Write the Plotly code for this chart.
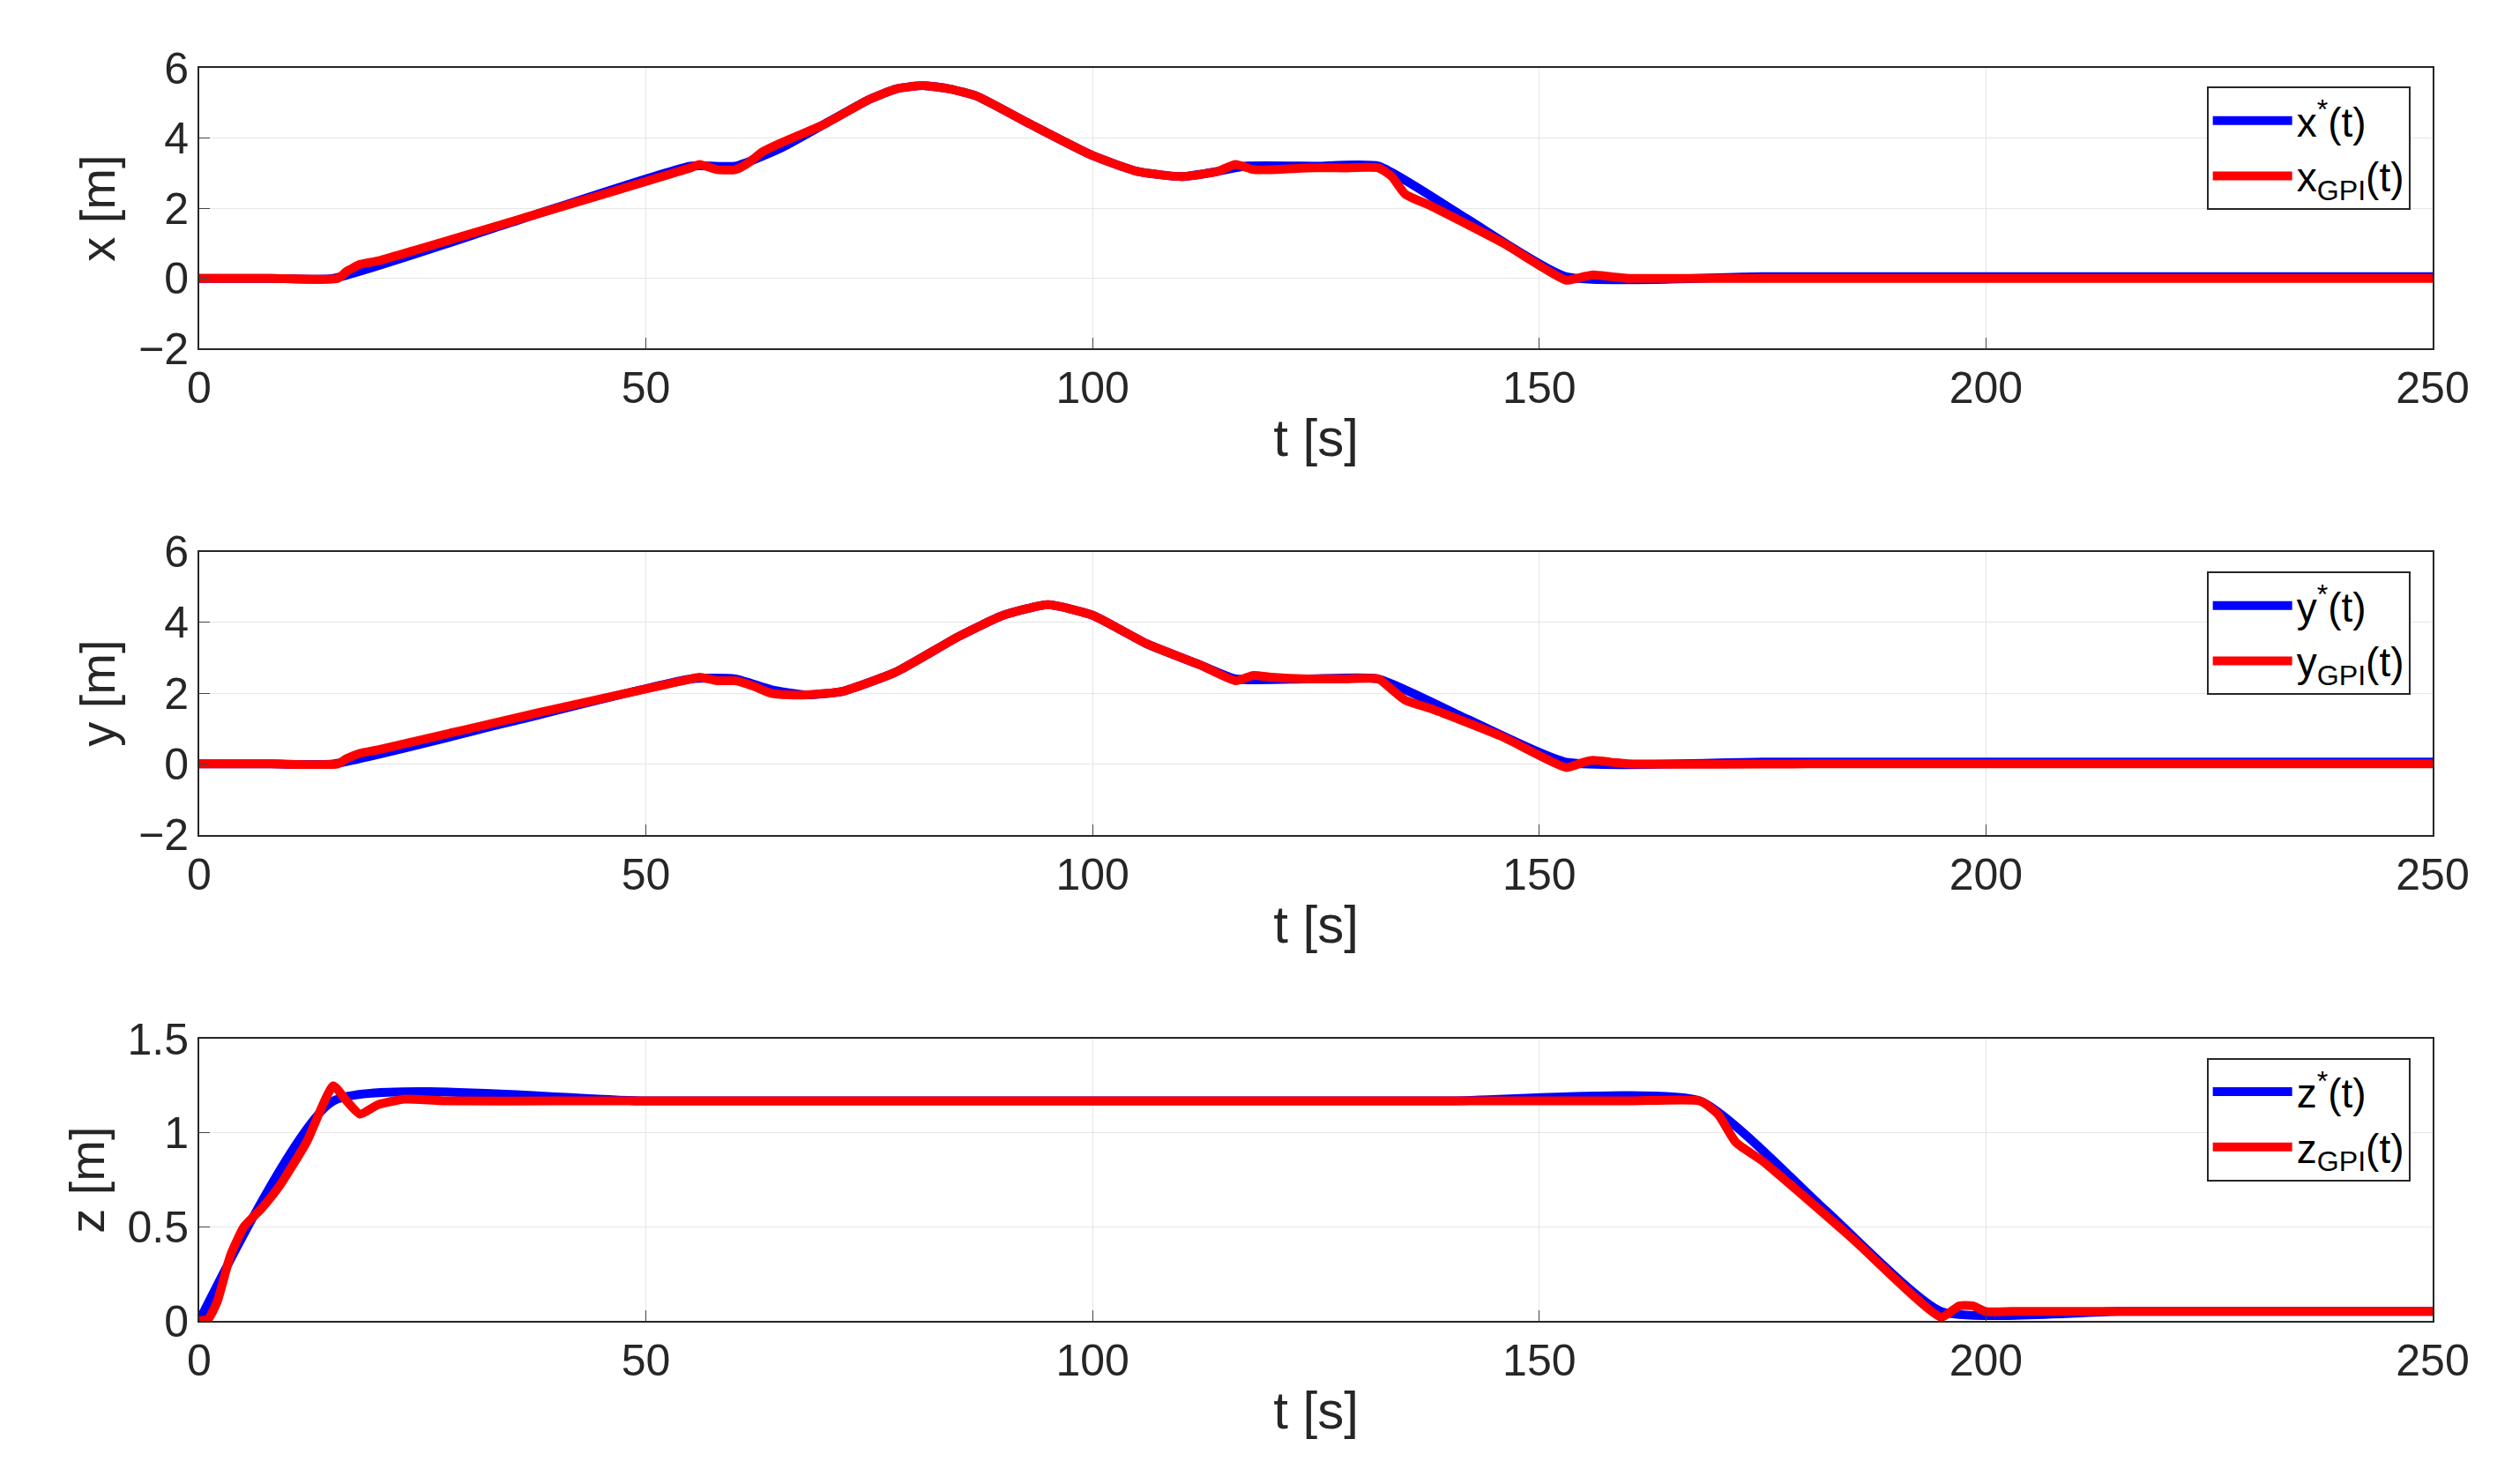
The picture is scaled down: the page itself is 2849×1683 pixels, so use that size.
import plotly.graph_objects as go
from plotly.subplots import make_subplots

# data
t_xr = [0, 8, 15, 35, 55, 60, 65, 70, 75, 78, 81, 84, 87, 93, 100, 105, 110, 114, 117, 125, 132, 142, 153, 175, 200, 225, 250]
x_ref = [0, 0, 0, 1.6, 3.2, 3.2, 3.7, 4.4, 5.1, 5.4, 5.5, 5.4, 5.2, 4.4, 3.5, 3.05, 2.9, 3.05, 3.2, 3.2, 3.2, 1.68, 0.05, 0.05, 0.05, 0.05, 0.05]
t_xg = [0, 8, 15.5, 16.5, 18, 20, 38, 55, 56, 58, 60, 61.5, 63, 65, 70, 75, 78, 81, 84, 87, 93, 100, 105, 110, 114, 116, 118, 120, 124, 128, 132, 133.5, 135, 138, 146, 153, 155, 156, 158, 160, 165, 180, 200, 225, 250]
x_gpi = [0, 0, 0, 0.2, 0.4, 0.5, 1.85, 3.15, 3.25, 3.1, 3.1, 3.3, 3.6, 3.85, 4.4, 5.1, 5.4, 5.5, 5.4, 5.2, 4.4, 3.5, 3.05, 2.9, 3.05, 3.25, 3.1, 3.1, 3.15, 3.15, 3.15, 2.9, 2.4, 2.05, 1.0, -0.05, 0.05, 0.1, 0.05, 0.0, 0.0, 0.0, 0.0, 0.0, 0.0]

t_yr = [0, 8, 15, 35, 55, 60, 64, 68, 72, 78, 85, 90, 95, 100, 106, 112, 116, 124, 132, 142, 153, 175, 200, 225, 250]
y_ref = [0, 0, 0, 1.2, 2.4, 2.4, 2.1, 1.95, 2.05, 2.6, 3.6, 4.2, 4.5, 4.2, 3.4, 2.8, 2.4, 2.4, 2.4, 1.26, 0.05, 0.05, 0.05, 0.05, 0.05]
t_yg = [0, 8, 15.5, 16.5, 18, 20, 38, 55, 56, 58, 60, 62, 64, 66, 68, 72, 78, 85, 90, 95, 100, 106, 112, 116, 118, 120, 124, 128, 132, 133.5, 135, 138, 146, 153, 155, 156, 158, 160, 180, 200, 225, 250]
y_gpi = [0, 0, 0, 0.15, 0.3, 0.4, 1.45, 2.4, 2.45, 2.35, 2.35, 2.2, 2.0, 1.95, 1.95, 2.05, 2.6, 3.6, 4.2, 4.5, 4.2, 3.4, 2.8, 2.35, 2.5, 2.45, 2.4, 2.4, 2.4, 2.1, 1.8, 1.55, 0.75, -0.1, 0.05, 0.1, 0.05, 0.0, 0.0, 0.0, 0.0, 0.0]

t_zr = [0, 15, 50, 100, 140, 168, 182, 195, 215, 235, 250]
z_ref = [0, 1.17, 1.17, 1.17, 1.17, 1.17, 0.59, 0.05, 0.05, 0.05, 0.05]
t_zg = [0, 1, 2, 3.5, 5, 7, 9, 12, 15, 16.5, 18, 20, 23, 28, 40, 60, 80, 100, 120, 140, 160, 168, 170, 172, 175, 185, 195, 197, 198.5, 200, 203, 215, 230, 250]
z_gpi = [0, 0.01, 0.1, 0.35, 0.5, 0.6, 0.72, 0.95, 1.25, 1.17, 1.1, 1.15, 1.18, 1.17, 1.17, 1.17, 1.17, 1.17, 1.17, 1.17, 1.17, 1.17, 1.1, 0.95, 0.85, 0.44, 0.02, 0.08, 0.08, 0.05, 0.05, 0.05, 0.05, 0.05]

fig = make_subplots(rows=3, cols=1)
BLUE, RED = "#0000ff", "#ff0000"
sets = [
    (t_xr, x_ref, t_xg, x_gpi, "x", "legend"),
    (t_yr, y_ref, t_yg, y_gpi, "y", "legend2"),
    (t_zr, z_ref, t_zg, z_gpi, "z", "legend3"),
]
for i, (tr, r, tg, g, n, lg) in enumerate(sets, start=1):
    fig.add_trace(go.Scatter(x=tr, y=r, mode="lines", line=dict(color=BLUE, width=10, shape="spline", smoothing=0.5),
                             name=f"{n}<sup>*</sup>(t)", legend=lg), row=i, col=1)
    fig.add_trace(go.Scatter(x=tg, y=g, mode="lines", line=dict(color=RED, width=10, shape="spline", smoothing=0.5),
                             name=f"{n}<sub>GPI</sub>(t)", legend=lg), row=i, col=1)

domains = [[0.776, 1.0], [0.388, 0.614], [0.0, 0.225]]
yranges = [[-2, 6], [-2, 6], [0, 1.5]]
ydt = [2, 2, 0.5]
for i in range(3):
    ax = "" if i == 0 else str(i + 1)
    fig.layout["yaxis" + ax].update(domain=domains[i], range=yranges[i], dtick=ydt[i],
        title=dict(text=f"{'xyz'[i]} [m]", font=dict(size=56), standoff=8),
        tickfont=dict(size=50),
        showline=True, linecolor="#262626", linewidth=2, mirror=True, ticks="inside", ticklen=12,
        showgrid=True, gridcolor="#e6e6e6", zeroline=False)
    fig.layout["xaxis" + ax].update(range=[0, 250], dtick=50,
        title=dict(text="t [s]", font=dict(size=60), standoff=8),
        tickfont=dict(size=50),
        showline=True, linecolor="#262626", linewidth=2, mirror=True, ticks="inside", ticklen=12,
        showgrid=True, gridcolor="#e6e6e6", zeroline=False)

leg = dict(xanchor="right", yanchor="top", x=0.99, bgcolor="white", bordercolor="#262626",
           borderwidth=2, font=dict(size=46, color="black"), itemwidth=90)
fig.update_layout(
    legend=dict(leg, y=0.985), legend2=dict(leg, y=0.598), legend3=dict(leg, y=0.21),
    width=2849, height=1683, margin=dict(l=218, r=98, t=69, b=193),
    paper_bgcolor="white", plot_bgcolor="white",
    font=dict(family="Liberation Sans, Arial", size=48, color="#262626"),
)
fig.write_html("out.html")
